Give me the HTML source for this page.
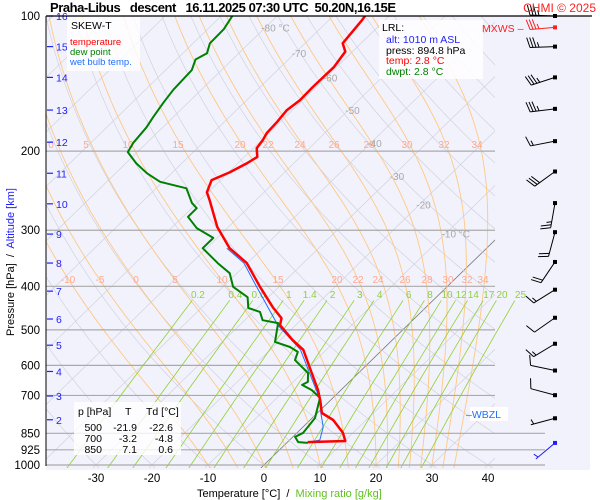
<!DOCTYPE html>
<html><head><meta charset="utf-8"><style>
body{margin:0;background:#fff;}
svg{display:block;font-family:"Liberation Sans",sans-serif;}
.pre{white-space:pre;}
</style></head><body>
<svg id="chart" width="600" height="500" viewBox="0 0 600 500">
<rect x="46" y="16" width="544" height="454" fill="#f2f2fd"/>
<defs><clipPath id="clipA"><rect x="46" y="16" width="449" height="452"/></clipPath>
<clipPath id="clipM"><rect x="46" y="16" width="500" height="452"/></clipPath></defs>
<g id="grid" clip-path="url(#clipA)"></g>
<g id="mix" clip-path="url(#clipM)"></g>
<g id="isob"></g>
<g id="labels"></g>
<g id="series" clip-path="url(#clipA)"></g>
<g id="wind"></g>
<g id="axes"></g>
<line x1="46" y1="16" x2="592" y2="16" stroke="#000" stroke-width="1.2"/>
<line x1="46" y1="16" x2="46" y2="466" stroke="#000" stroke-width="1"/>
<text class="pre" x="50" y="12" font-size="13" font-weight="bold" textLength="346">Praha-Libus   descent   16.11.2025 07:30 UTC  50.20N,16.15E</text>
<text x="596" y="12" text-anchor="end" font-size="12" fill="#ff2020">CHMI © 2025</text>
<g>
<rect x="67" y="17" width="73" height="54" fill="#fff" opacity="0.8"/>
<text x="71" y="29" font-size="10.5">SKEW-T</text>
<text x="70" y="45" font-size="9.5" fill="#ff0000">temperature</text>
<text x="70" y="55" font-size="9.5" fill="#008000">dew point</text>
<text x="70" y="65" font-size="9.5" fill="#2070ff">wet bulb temp.</text>
</g>
<g>
<rect x="379" y="20" width="104" height="59" fill="#fff" opacity="0.85"/>
<text x="382" y="31" font-size="10.5">LRL:</text>
<text x="386" y="43" font-size="10.5" fill="#2020ff">alt: 1010 m ASL</text>
<text x="386" y="54" font-size="10.5">press: 894.8 hPa</text>
<text x="386" y="64" font-size="10.5" fill="#ff0000">temp: 2.8 °C</text>
<text x="386" y="75" font-size="10.5" fill="#008000">dwpt: 2.8 °C</text>
</g>
<g>
<rect x="74" y="402" width="107" height="53" fill="#fff" opacity="0.8"/>
<text x="78" y="415" font-size="10.5">p [hPa]</text>
<text x="125" y="415" font-size="10.5">T</text>
<text x="146" y="415" font-size="10.5">Td [°C]</text>
<g font-size="10.5" text-anchor="end">
<text x="102" y="431">500</text><text x="137" y="431">-21.9</text><text x="173" y="431">-22.6</text>
<text x="102" y="442">700</text><text x="137" y="442">-3.2</text><text x="173" y="442">-4.8</text>
<text x="102" y="453">850</text><text x="137" y="453">7.1</text><text x="173" y="453">0.6</text>
</g></g>
<text x="482" y="32" font-size="10.5" fill="#ff2020">MXWS –</text>
<rect x="470" y="407" width="38" height="14" fill="#fff"/>
<text x="466" y="418" font-size="10.5" fill="#2070ff">–WBZL</text>
<text class="pre" x="197" y="497" font-size="11">Temperature [°C]  /  <tspan fill="#60c020">Mixing ratio [g/kg]</tspan></text>
<text class="pre" transform="translate(14,336) rotate(-90)" font-size="11">Pressure [hPa]  /  <tspan fill="#2020ff">Altitude [km]</tspan></text>
</svg>
<script>
const tempP=[889,884,848,794,766,720,681,627,554,527,488,471,445,401,355,329,295,257,247,232,223,213,206,197,189,182,172,162,154,144,130,120,115,102,100];
const tempT=[3.6,10.1,8.2,4.1,0.8,-1.7,-4.1,-8.1,-14.1,-17.8,-22.8,-23.8,-27.4,-33.4,-40.1,-45.9,-52.0,-58.3,-60.2,-61.6,-59.8,-58.4,-57.7,-59.4,-59.8,-60.4,-60.6,-61.0,-60.5,-60.6,-60.5,-61.3,-63.3,-64.1,-64.3];
const dewP=[893,889,866,848,786,709,681,663,653,624,584,560,546,532,483,476,456,447,423,401,374,355,329,312,297,280,268,261,242,234,224,213,201,192,177,168,156,146,132,125,121,115,107,100];
const dewT=[3.8,1.9,0.4,1.1,0.5,-2.3,-5.2,-7.9,-7.4,-9.0,-13.7,-14.7,-17.0,-20.6,-23.5,-26.8,-28.8,-31.6,-33.7,-38.2,-41.3,-45.3,-50.7,-50.7,-55.4,-59.1,-59.1,-60.9,-64.6,-70.5,-74.4,-78.1,-81.7,-82.4,-82.9,-83.6,-84.4,-85.0,-85.3,-86.6,-85.7,-87.0,-87.1,-88.0];
const wbP=[889,880,823,760,709,627,554,488,401,355,329];
const wbT=[3.6,5.4,3.6,0.3,-2.4,-8.5,-14.6,-23.2,-34.0,-40.6,-46.4];
const isobarP=[200,300,400,500,600,700,850,925,1000];
const isobarLabels=["100","200","300","400","500","600","700","850","925","1000"];
const isobarLabelP=[100,200,300,400,500,600,700,850,925,1000];
const altKm=[16,15,14,13,12,11,10,9,8,7,6,5,4,3,2];
const altP=[100,117,137,162,191,224,262,306,355,410,473,541,619,702,793];
const xTicks=[-30,-20,-10,0,10,20,30,40];
const isoT=[-80,-70,-60,-50,-40,-30,-20,-10];
const isoLabelP=[106,121,137,162,192,227,263,305];
const thetaW=[-10,-5,0,5,10,15,20,22,24,26,28,30,32,34];
const mixW=[0.2,0.4,0.6,1,1.4,2,3,4,6,8,10,12,14,17,20,25];
const mixLabels=["0.2","0.4","0.6","1","1.4","2","3","4","6","8","10","12","14","17","20","25"];
const windP=[100,106,117,137,161,190,222,261,303,353,407,470,537,616,699,787,893];
const windDir=[272,265,268,252,263,259,234,190,195,214,238,235,239,282,285,255,230];
const windSpd=[35,35,35,35,35,15,30,25,20,20,15,10,15,10,10,5,5];

const NS='http://www.w3.org/2000/svg';
const X0=264,KT=5.6,SK=1.027,YB=465,YT=16,H=449;
function py(p){return YT+H*Math.log10(p/100);}
function tx(T,p){return X0+KT*T+SK*(YB-py(p));}
function mk(tag,attrs,parent){const e=document.createElementNS(NS,tag);for(const k in attrs)e.setAttribute(k,attrs[k]);parent.appendChild(e);return e;}
function txt(s,x,y,fs,fill,anchor,parent){const e=mk('text',{x:x,y:y,'font-size':fs,fill:fill,'text-anchor':anchor||'middle'},parent);e.textContent=s;return e;}
function poly(ps,ts){return ps.map((p,i)=>tx(ts[i],p).toFixed(1)+','+py(p).toFixed(1)).join(' ');}
const G=document.getElementById('grid'),M=document.getElementById('mix'),I=document.getElementById('isob'),L=document.getElementById('labels'),S=document.getElementById('series'),W=document.getElementById('wind'),A=document.getElementById('axes');
const plevels=[];for(let p=1050;p>=100;p-=10)plevels.push(p);
for(let T=-130;T<=50;T+=10){const e=mk('polyline',{points:poly([1050,100],[T,T]),fill:'none',stroke:T===0?'#777':'#d2d2dc','stroke-width':T===0?0.8:0.7},G);

}
for(let th=-40;th<=220;th+=10){const ts=plevels.map(p=>(th+273.15)*Math.pow(p/1000,0.2857)-273.15);const e=mk('polyline',{points:poly(plevels,ts),fill:'none',stroke:'#d2d2dc','stroke-width':0.7},G);

}
function es(Tc){return 6.112*Math.exp(17.67*Tc/(Tc+243.5));}
thetaW.forEach(tw=>{let T,p;
 const step=(T0,p0,dp)=>{const Tc=T0-273.15;const e=es(Tc);const rs=0.622*e/(p0-e);const num=287*T0+2.5e6*rs;const den=1004+2.5e6*2.5e6*rs*0.622/(287*T0*T0);return T0+dp*(num/den)/p0;};
 let Tb=tw+273.15;for(let q=1000;q<1050;q+=5)Tb=step(Tb,q,5);
 const ps=[],ts=[];T=Tb;for(p=1050;p>=100;p-=5){ps.push(p);ts.push(T-273.15);T=step(T,p,-5);}
 const e=mk('polyline',{points:poly(ps,ts),fill:'none',stroke:'#ffc880','stroke-width':0.9},G);
 
 });
mixW.forEach((w,i)=>{const ps=[],ts=[];for(let p=1050;p>=430;p-=20){const r=w/1000;const e=r*p/(0.622+r);const l=Math.log(e/6.112);ps.push(p);ts.push(243.5*l/(17.67-l));}
 const e=mk('polyline',{points:poly(ps,ts),fill:'none',stroke:'#90d030','stroke-width':0.8},M);
 
 
 const lx=tx(ts[ts.length-1],418);const t=txt(mixLabels[i],lx,298,10,'#90d040','middle',L);
 
 });
isobarP.forEach(p=>{const e=mk('line',{x1:46,x2:p>=850?545:495,y1:py(p),y2:py(p),stroke:'#aaa','stroke-width':1.2},I);

});
const mlab200=[51,86,128,178,240,268,300,334,369,407,444,477];
const mlab400=[68,100,136,175,222,278,337,358,378,405,427,448,467,483];
thetaW.slice(2).forEach((v,i)=>{const t=txt(String(v),mlab200[i],148,10,'#ffa890','middle',L);

});
thetaW.forEach((v,i)=>{const t=txt(String(v),mlab400[i],283,10,'#ffa890','middle',L);

});
isoT.forEach((T,i)=>{const t=txt(T+(T===-80||T===-10?' °C':''),tx(T,isoLabelP[i])+(T===-80||T===-10?10:4),py(isoLabelP[i])+4,10,'#a8a8a8','middle',L);

});
[[wbP,wbT,'#2070ff',1,'wet-bulb-line'],[dewP,dewT,'#008000',2,'dew-point-line'],[tempP,tempT,'#ff0000',2.5,'temperature-line']].forEach(s=>{const e=mk('polyline',{points:poly(s[0],s[1]),fill:'none',stroke:s[2],'stroke-width':s[3],'stroke-linejoin':'round'},S);

});
isobarLabelP.forEach((p,i)=>{const t=txt(isobarLabels[i],40,py(p)+4,11.5,'#000','end',A);

});
altKm.forEach((k,i)=>{const y=py(altP[i]);const e=mk('line',{x1:47,x2:53,y1:y,y2:y,stroke:'#2020ff','stroke-width':1.2},A);


const t=txt(String(k),56,y+4,10.5,'#2020ff','start',A);

});
xTicks.forEach(T=>{const t=txt(String(T),tx(T,1000),482,11.5,'#000','middle',A);

});
windP.forEach((p,i)=>{const bx=555,by=py(p);const d=windDir[i]*Math.PI/180;const ux=Math.sin(d),uy=-Math.cos(d);const Ls=25;
 const col=i===1?'#ff2020':(i===windP.length-1?'#2020ff':'#000');
 const g=mk('g',{stroke:col,'stroke-width':1,fill:'none'},W);
 
 
 const ex=bx+ux*Ls,ey=by+uy*Ls;mk('line',{x1:bx,y1:by,x2:ex,y2:ey},g);
 mk('rect',{x:bx-2,y:by-2,width:4,height:4,fill:col,stroke:'none'},g);
 const vx=-uy,vy=ux;let s=windSpd[i],pos=0;
 while(s>=10){const sx=ex-ux*pos,sy=ey-uy*pos;mk('line',{x1:sx,y1:sy,x2:sx+vx*10+ux*3,y2:sy+vy*10+uy*3},g);pos+=3;s-=10;}
 if(s>=5){if(pos===0)pos=3;const sx=ex-ux*pos,sy=ey-uy*pos;mk('line',{x1:sx,y1:sy,x2:sx+vx*5+ux*1.5,y2:sy+vy*5+uy*1.5},g);}
});
</script>
</body></html>
